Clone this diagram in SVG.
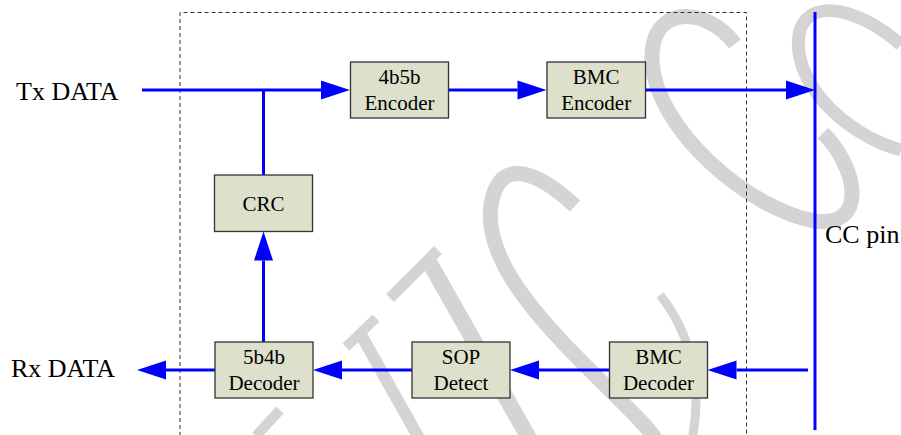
<svg xmlns="http://www.w3.org/2000/svg" width="901" height="435" viewBox="0 0 901 435">
  <style>
    .box { fill: #dde0cb; stroke: #333333; stroke-width: 1.3; }
    .lbl { font-size: 21px; fill: #000000; text-anchor: middle; }
    .io { font-size: 26px; fill: #000000; }
    .wire { fill: none; stroke: #0000ff; stroke-width: 3; }
    .frame { fill: none; stroke: #333333; stroke-width: 1; stroke-dasharray: 4 3; }
    .wm { fill: none; stroke: #d4d4d4; stroke-linecap: butt; }
  </style>
  <defs>
    <marker id="arrow" markerUnits="userSpaceOnUse" markerWidth="30" markerHeight="20" refX="0" refY="10" orient="auto" overflow="visible">
      <path d="M0,0.5 L29,10 L0,19.5 Z" fill="#0000ff"/>
    </marker>
  </defs>

  <rect width="901" height="435" fill="#ffffff"/>

  <!-- pale background watermark strokes -->
  <g id="watermark" class="wm">
    <path d="M735,44 C705,5 650,5 652,60 C655,130 750,210 815,221 C868,228 858,168 823,133" stroke-width="15"/>
    <path d="M901,45 C865,12 812,-5 800,30 C788,80 845,135 901,150" stroke-width="13"/>
    <path d="M575,206 C545,178 500,150 491,205 C482,270 560,340 625,405 C640,420 650,430 656,440" stroke-width="15"/>
    <path d="M660,295 C688,330 704,380 692,440" stroke-width="9"/>
    <path d="M438,250 L390,298" stroke-width="11"/>
    <path d="M428,260 L530,440" stroke-width="16"/>
    <path d="M376,318 L346,347" stroke-width="10"/>
    <path d="M360,333 L420,440" stroke-width="12"/>
    <path d="M280,410 L256,436" stroke-width="10"/>
  </g>

  <!-- dashed outline of the PHY block -->
  <path class="frame" d="M180,436 V12.5 H746.5 V436"/>

  <g id="connectors">
    <path class="wire" d="M142,90 H321" marker-end="url(#arrow)"/>
    <path class="wire" d="M263.5,90 V175"/>
    <path class="wire" d="M448.5,90 H517.5" marker-end="url(#arrow)"/>
    <path class="wire" d="M645.5,90 H786" marker-end="url(#arrow)"/>
    <path class="wire" d="M815,12 V430"/>
    <path class="wire" d="M808,370 H736.5" marker-end="url(#arrow)"/>
    <path class="wire" d="M609.5,370 H539" marker-end="url(#arrow)"/>
    <path class="wire" d="M412,370 H342" marker-end="url(#arrow)"/>
    <path class="wire" d="M215,370 H166" marker-end="url(#arrow)"/>
    <path class="wire" d="M263.5,342 V260.5" marker-end="url(#arrow)"/>
  </g>

  <g font-family="'Liberation Serif', 'Times New Roman', serif">
    <g id="enc4b5b">
      <rect class="box" x="350.5" y="62" width="98" height="56"/>
      <text class="lbl" x="399.5" y="84">4b5b</text>
      <text class="lbl" x="399.5" y="109.5">Encoder</text>
    </g>
    <g id="bmcEnc">
      <rect class="box" x="547" y="62" width="98.5" height="56"/>
      <text class="lbl" x="596.2" y="84">BMC</text>
      <text class="lbl" x="596.2" y="109.5">Encoder</text>
    </g>
    <g id="crc">
      <rect class="box" x="214.5" y="175" width="98" height="56.5"/>
      <text class="lbl" x="263.5" y="210.5">CRC</text>
    </g>
    <g id="dec5b4b">
      <rect class="box" x="215" y="342" width="98" height="56"/>
      <text class="lbl" x="264" y="363.5">5b4b</text>
      <text class="lbl" x="264" y="390">Decoder</text>
    </g>
    <g id="sop">
      <rect class="box" x="412" y="342" width="98" height="56"/>
      <text class="lbl" x="461" y="363.5">SOP</text>
      <text class="lbl" x="461" y="390">Detect</text>
    </g>
    <g id="bmcDec">
      <rect class="box" x="609.5" y="342" width="98" height="56"/>
      <text class="lbl" x="658.5" y="363.5">BMC</text>
      <text class="lbl" x="658.5" y="390">Decoder</text>
    </g>

    <g id="txData"><text class="io" x="16" y="100">Tx DATA</text></g>
    <g id="rxData"><text class="io" x="11" y="376.5">Rx DATA</text></g>
    <g id="ccPin"><text class="io" x="825" y="243">CC pin</text></g>
  </g>
</svg>
